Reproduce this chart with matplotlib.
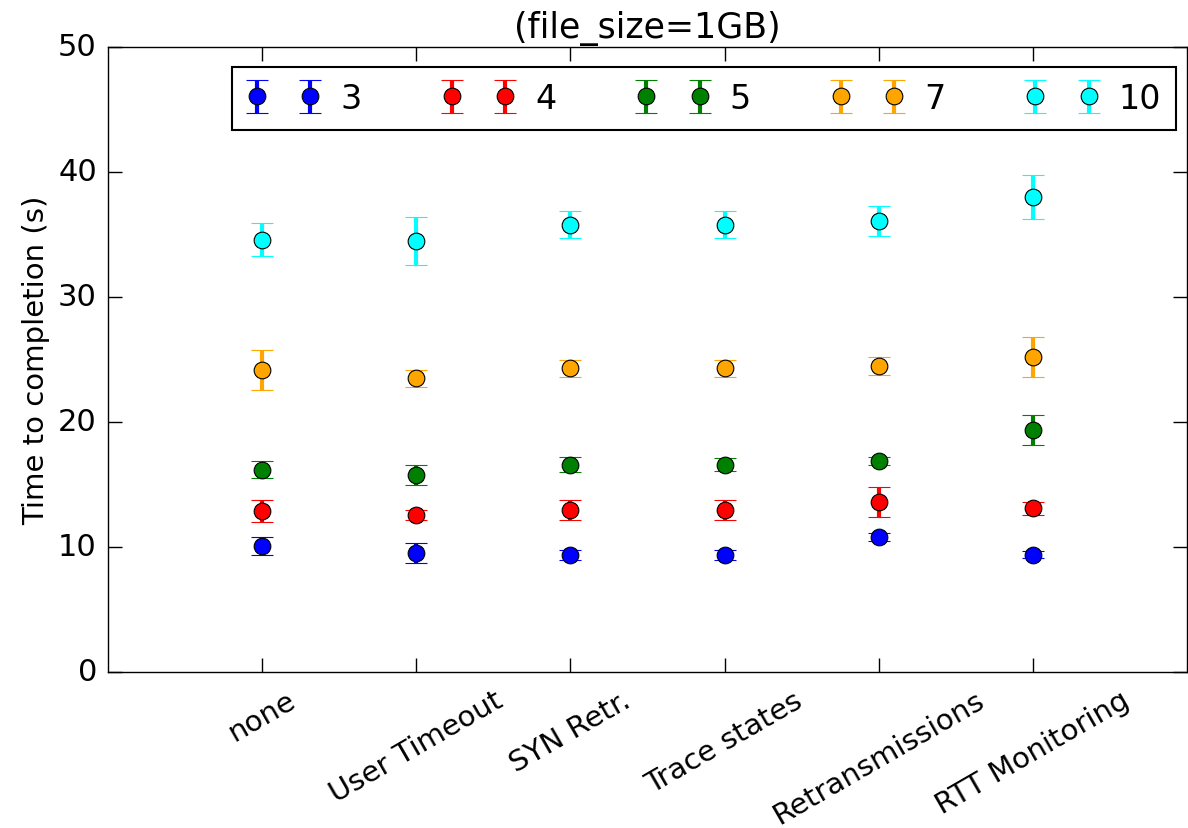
import matplotlib
matplotlib.use("Agg")
import matplotlib.pyplot as plt

plt.style.use("classic")

cases = ["none", "User Timeout", "SYN Retr.", "Trace states",
         "Retransmissions", "RTT Monitoring"]
labels = ["3", "4", "5", "7", "10"]
colors = ["blue", "red", "green", "orange", "cyan"]

mean_3 = [10.1, 9.5, 9.4, 9.4, 10.8, 9.4]
err_3 = [0.7, 0.8, 0.4, 0.4, 0.3, 0.3]
mean_4 = [12.9, 12.6, 13.0, 13.0, 13.6, 13.1]
err_4 = [0.9, 0.4, 0.8, 0.8, 1.2, 0.5]
mean_5 = [16.2, 15.8, 16.6, 16.6, 16.9, 19.4]
err_5 = [0.7, 0.8, 0.6, 0.5, 0.3, 1.2]
mean_7 = [24.2, 23.5, 24.3, 24.3, 24.5, 25.2]
err_7 = [1.6, 0.7, 0.7, 0.7, 0.7, 1.6]
mean_10 = [34.6, 34.5, 35.8, 35.8, 36.1, 38.0]
err_10 = [1.3, 1.9, 1.1, 1.1, 1.2, 1.8]

means = [mean_3, mean_4, mean_5, mean_7, mean_10]
errs = [err_3, err_4, err_5, err_7, err_10]

fig = plt.figure(figsize=(11.88, 8.29), dpi=100, facecolor="white")
ax = fig.add_axes([108 / 1188, 1 - 673 / 829, 1079 / 1188, 625 / 829])

x = list(range(1, len(cases) + 1))
for m, e, c, lab in zip(means, errs, colors, labels):
    ax.errorbar(x, m, yerr=e, fmt="o", color=c, ecolor=c, mec="black",
                mew=0.8, ms=12, elinewidth=3, capsize=8, capthick=2,
                label=lab)

ax.set_xlim(0, 7)
ax.set_ylim(0, 50)
ax.set_xticks(x)
ax.set_xticklabels(cases, rotation=30, fontsize=21)
ax.tick_params(axis="y", labelsize=22, pad=8)
ax.tick_params(axis="x", pad=10)
ax.tick_params(length=10, width=1)
ax.set_ylabel("Time to completion (s)", fontsize=21, labelpad=6)
ax.set_title("(file_size=1GB)", fontsize=25, y=1.005)

leg = ax.legend(loc="upper right", ncol=5, numpoints=2, fontsize=24,
                bbox_to_anchor=(0.99, 0.968), borderaxespad=0.,
                columnspacing=2.4, handlelength=2.2, handletextpad=0.6,
                borderpad=0.45, fancybox=False)
leg.get_frame().set_linewidth(1.5)

fig.savefig("out.png", dpi=100, facecolor="white")
